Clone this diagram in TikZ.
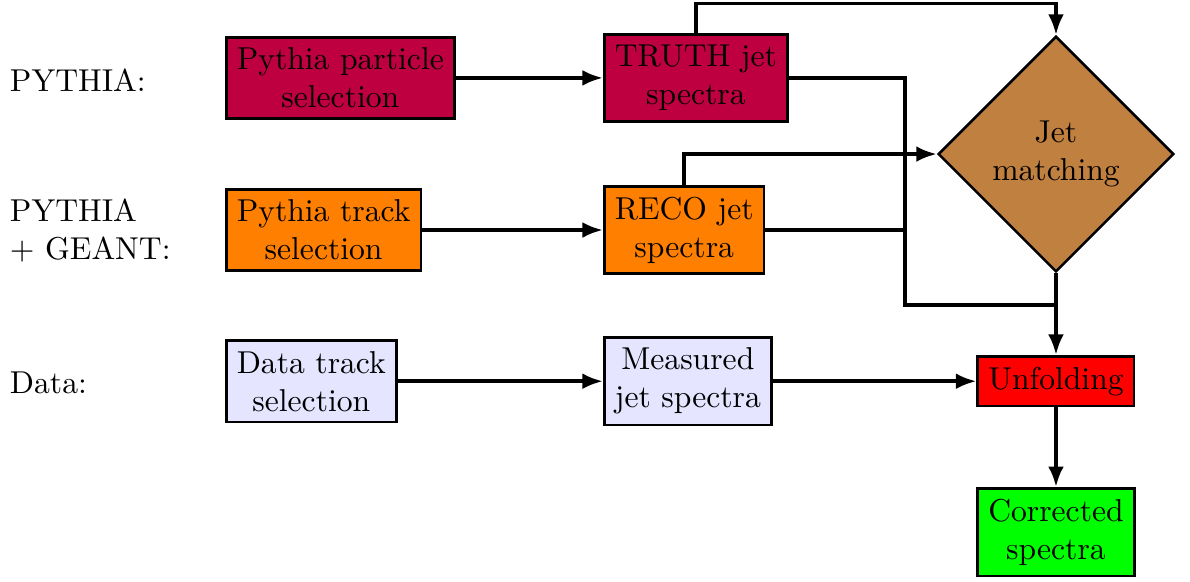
\documentclass[tikz,border=0pt]{standalone}
\usetikzlibrary{shapes.geometric,arrows.meta}
\begin{document}
\begin{tikzpicture}[
            box/.style={rectangle, draw, thick, align=center},
            particle box/.style={box, fill=purple},
            track box/.style={box, fill=orange},
            data box/.style={box, fill=blue!10},
            match box/.style={diamond, draw, thick, fill=brown, align=center},
            unfold box/.style={box, fill=red},
            result box/.style={box, fill=green},
            label/.style={anchor=west, align=left, inner sep=0pt},
            every path/.style={very thick},
            >={Latex[length=6.5pt,width=5pt]}
    ]
        \useasboundingbox (0,0) rectangle (13.222,6.456);

        % Row labels
        \node[label] (lab_py) at (0.09,5.57) {PYTHIA:};
        \node[label] (lab_geant) at (0.09,3.89) {PYTHIA\\+ GEANT:};
        \node[label] (lab_data) at (0.09,2.2) {Data:};

        % Selection
        \node[particle box, anchor=west] (sel_part) at (2.5,5.59) {Pythia particle\\selection};
        \node[track box, anchor=west] (sel_track) at (2.5,3.9) {Pythia track\\selection};
        \node[data box, anchor=west] (sel_data) at (2.5,2.22) {Data track\\selection};

        % Jet spectra
        \node[particle box, anchor=west] (jet_truth) at (6.7,5.59) {TRUTH jet\\spectra};
        \node[track box, anchor=west] (jet_reco) at (6.7,3.9) {RECO jet\\spectra};
        \node[data box, anchor=west] (jet_meas) at (6.7,2.22) {Measured\\jet spectra};

        % Matching and unfolding
        \node[match box] (match) at (11.733,4.744) {Jet\\matching};
        \node[unfold box] (unfold) at (11.733,2.22) {Unfolding};
        \node[result box] (corr) at (11.733,0.544) {Corrected\\spectra};

        \coordinate (bend) at (10.056,3.067);

        % Arrows
        \draw[->] (sel_part) -- (jet_truth);
        \draw[->] (sel_track) -- (jet_reco);
        \draw[->] (sel_data) -- (jet_meas);
        \draw[->] (jet_meas) -- (unfold);

        \draw[->] (jet_truth.north) -- ++(0,0.33) -| (match.north);
        \draw[->] (jet_reco.north) |- (match.west);

        \draw (jet_truth.east) -| (bend) -- (bend -| match.south);
        \draw (jet_reco.east) -- (jet_reco.east -| bend);

        \draw[->] (match.south) -- (unfold.north);
        \draw[->] (unfold) -- (corr);

    \end{tikzpicture}
\end{document}
